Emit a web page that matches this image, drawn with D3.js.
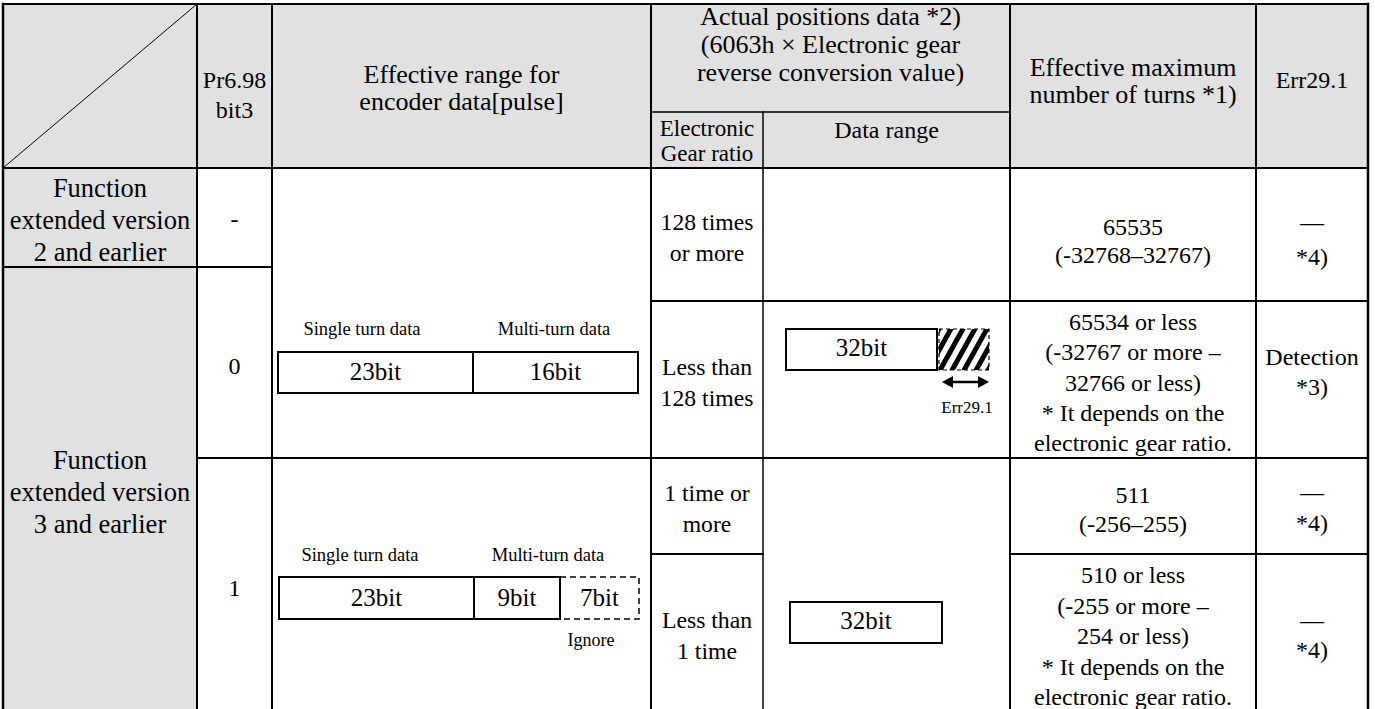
<!DOCTYPE html>
<html>
<head>
<meta charset="utf-8">
<script src="https://cdn.jsdelivr.net/npm/d3@7"></script>
<style>
  html, body { margin: 0; padding: 0; background: #fff; }
  svg { display: block; }
  text { font-family: "Liberation Serif", "Times New Roman", serif; fill: #000; }
</style>
</head>
<body>
<script>
// ---------------- DATA ----------------
const headerLabels = [
  ["Pr6.98", "bit3"],
  ["Effective range for", "encoder data[pulse]"],
  ["Actual positions data *2)", "(6063h \u00d7 Electronic gear", "reverse conversion value)"],
  ["Electronic", "Gear ratio"],
  ["Data range"],
  ["Effective maximum", "number of turns *1)"],
  ["Err29.1"]
];
const versionLabels = [
  ["Function", "extended version", "2 and earlier"],
  ["Function", "extended version", "3 and earlier"]
];
const bit3Values = ["-", "0", "1"];
const gearRatios = [
  ["128 times", "or more"],
  ["Less than", "128 times"],
  ["1 time or", "more"],
  ["Less than", "1 time"]
];
const maxTurns = [
  ["65535", "(-32768\u201332767)"],
  ["65534 or less", "(-32767 or more \u2013", "32766 or less)", "* It depends on the", "electronic gear ratio."],
  ["511", "(-256\u2013255)"],
  ["510 or less", "(-255 or more \u2013", "254 or less)", "* It depends on the", "electronic gear ratio."]
];
const err291 = [
  ["\u2014", "*4)"],
  ["Detection", "*3)"],
  ["\u2014", "*4)"],
  ["\u2014", "*4)"]
];
const fieldLabels = ["Single turn data", "Multi-turn data", "Ignore"];
const encoderFields = [
  ["23bit", "16bit"],
  ["23bit", "9bit", "7bit"]
];
const positionBits = ["32bit", "32bit"];
const overflowLabel = "Err29.1";

// ---------------- LAYOUT ----------------
const W = 1375, H = 709;
const FONT = "Liberation Serif, Times New Roman, serif";
const colEdges = [3, 197, 272, 651, 763, 1010, 1256, 1368];
const x = d3.scaleOrdinal().domain(d3.range(colEdges.length)).range(colEdges);
const cx = i => (x(i) + x(i + 1)) / 2;

const svg = d3.select("body").append("svg").attr("width", W).attr("height", H);

const gray = "#e1e1e1";
svg.append("rect").attr("x", x(0)).attr("y", 4).attr("width", x(7) - x(0)).attr("height", 164).attr("fill", gray);
svg.append("rect").attr("x", x(0)).attr("y", 168).attr("width", x(1) - x(0)).attr("height", H - 168).attr("fill", gray);

// grid lines: [x1,y1,x2,y2,width]
const segs = [
  [x(0), 4, x(7), 4, 2],
  [x(3), 112, x(5), 112, 1.5],
  [x(0), 168, x(7), 168, 2],
  [x(0), 267, x(2), 267, 2],
  [x(3), 301, x(7), 301, 2],
  [x(1), 458, x(7), 458, 2],
  [x(3), 554, x(4), 554, 2],
  [x(5), 554, x(7), 554, 2],
  [x(0), 4, x(0), H, 2.5],
  [x(1), 4, x(1), H, 2],
  [x(2), 4, x(2), H, 2],
  [x(3), 4, x(3), H, 2],
  [x(4), 112, x(4), H, 1.5],
  [x(5), 4, x(5), H, 2],
  [x(6), 4, x(6), H, 2],
  [x(7), 4, x(7), H, 2.5]
];
svg.append("g").selectAll("line").data(segs).join("line")
  .attr("x1", d => d[0]).attr("y1", d => d[1]).attr("x2", d => d[2]).attr("y2", d => d[3])
  .attr("stroke", "#000").attr("stroke-width", d => d[4]).attr("stroke-linecap", "square");

svg.append("line").attr("x1", x(0)).attr("y1", 168).attr("x2", x(1)).attr("y2", 4)
  .attr("stroke", "#000").attr("stroke-width", 1);

function block(lines, cxv, y0, step, size) {
  const g = svg.append("g");
  g.selectAll("text").data(lines).join("text")
    .attr("x", cxv).attr("y", (d, i) => y0 + i * step)
    .attr("text-anchor", "middle").attr("dominant-baseline", "central")
    .attr("font-family", FONT)
    .attr("font-size", size).text(d => d);
}

// header
const headerPos = [
  [cx(1), 80, 30, 24],
  [cx(2), 74, 27, 26],
  [(x(3) + x(5)) / 2, 16, 28, 26],
  [cx(3), 128, 25, 23],
  [cx(4), 130, 25, 24],
  [cx(5), 67, 27, 26],
  [cx(6), 80, 27, 24]
];
headerLabels.forEach((l, i) => block(l, ...headerPos[i]));

const versionPos = [[188, 32], [460, 32]];
versionLabels.forEach((l, i) => block(l, cx(0), versionPos[i][0], versionPos[i][1], 26.5));

const bit3Y = [219, 366, 588];
bit3Values.forEach((v, i) => block([v], cx(1), bit3Y[i], 0, 24));

const gearY = [222, 367, 493, 620];
gearRatios.forEach((l, i) => block(l, cx(3), gearY[i], 31, 23.7));

const turnsPos = [[227, 28], [322, 30.3], [495, 29], [575, 30.5]];
maxTurns.forEach((l, i) => block(l, cx(5), turnsPos[i][0], turnsPos[i][1], 24));

const errPos = [[222, 35], [357, 30], [492, 31], [620, 30]];
err291.forEach((l, i) => block(l, cx(6), errPos[i][0], errPos[i][1], 24));

// encoder bit diagrams
const fieldBoxes = [
  [[278, 473], [473, 638]],
  [[279, 474], [474, 560], [560, 639]]
];
const fieldY = [[352, 393], [577, 619]];
const labelY = [329, 555];
encoderFields.forEach((row, r) => {
  const [y0, y1] = fieldY[r];
  row.forEach((t, j) => {
    const [a, b] = fieldBoxes[r][j];
    if (r === 1 && j === 2) {
      svg.append("rect").attr("x", a).attr("y", y0).attr("width", b - a).attr("height", y1 - y0)
        .attr("fill", "none").attr("stroke", "#000").attr("stroke-width", 1.5).attr("stroke-dasharray", "6,4");
    }
  });
  row.forEach((t, j) => {
    const [a, b] = fieldBoxes[r][j];
    if (!(r === 1 && j === 2)) {
      svg.append("rect").attr("x", a).attr("y", y0).attr("width", b - a).attr("height", y1 - y0)
        .attr("fill", "none").attr("stroke", "#000").attr("stroke-width", 2);
    }
    block([t], (a + b) / 2, (y0 + y1) / 2 - 1, 0, 25);
  });
  block([fieldLabels[0]], r === 0 ? 362 : 360, labelY[r], 0, 18.5);
  block([fieldLabels[1]], r === 0 ? 554 : 548, labelY[r], 0, 18.5);
});
block([fieldLabels[2]], 591, 640, 0, 18);

// position data boxes
const posBoxes = [[786, 937, 329, 370], [790, 942, 602, 643]];
positionBits.forEach((t, i) => {
  const [a, b, y0, y1] = posBoxes[i];
  svg.append("rect").attr("x", a).attr("y", y0).attr("width", b - a).attr("height", y1 - y0)
    .attr("fill", "none").attr("stroke", "#000").attr("stroke-width", 2);
  block([t], (a + b) / 2, (y0 + y1) / 2 - 2, 0, 25);
});

// hatched overflow
const hx0 = 939, hx1 = 989, hy0 = 329, hy1 = 370;
const defs = svg.append("defs");
defs.append("clipPath").attr("id", "hclip").append("rect")
  .attr("x", hx0).attr("y", hy0).attr("width", hx1 - hx0).attr("height", hy1 - hy0);
const hg = svg.append("g").attr("clip-path", "url(#hclip)");
hg.selectAll("line").data(d3.range(-3, 6)).join("line")
  .attr("x1", k => hx0 + k * 12).attr("y1", hy1 + 2)
  .attr("x2", k => hx0 + k * 12 + 25).attr("y2", hy0 - 2)
  .attr("stroke", "#000").attr("stroke-width", 5);
svg.append("rect").attr("x", hx0).attr("y", hy0).attr("width", hx1 - hx0).attr("height", hy1 - hy0)
  .attr("fill", "none").attr("stroke", "#000").attr("stroke-width", 1.2).attr("stroke-dasharray", "4,3");

// double arrow
const ay = 382;
svg.append("line").attr("x1", hx0 + 8).attr("y1", ay).attr("x2", hx1 - 8).attr("y2", ay)
  .attr("stroke", "#000").attr("stroke-width", 2.5);
svg.append("path").attr("d", `M${hx0 + 3},${ay} L${hx0 + 14},${ay - 6} L${hx0 + 14},${ay + 6} Z`).attr("fill", "#000");
svg.append("path").attr("d", `M${hx1},${ay} L${hx1 - 11},${ay - 6} L${hx1 - 11},${ay + 6} Z`).attr("fill", "#000");
block([overflowLabel], 967, 407, 0, 17);
</script>
</body>
</html>
